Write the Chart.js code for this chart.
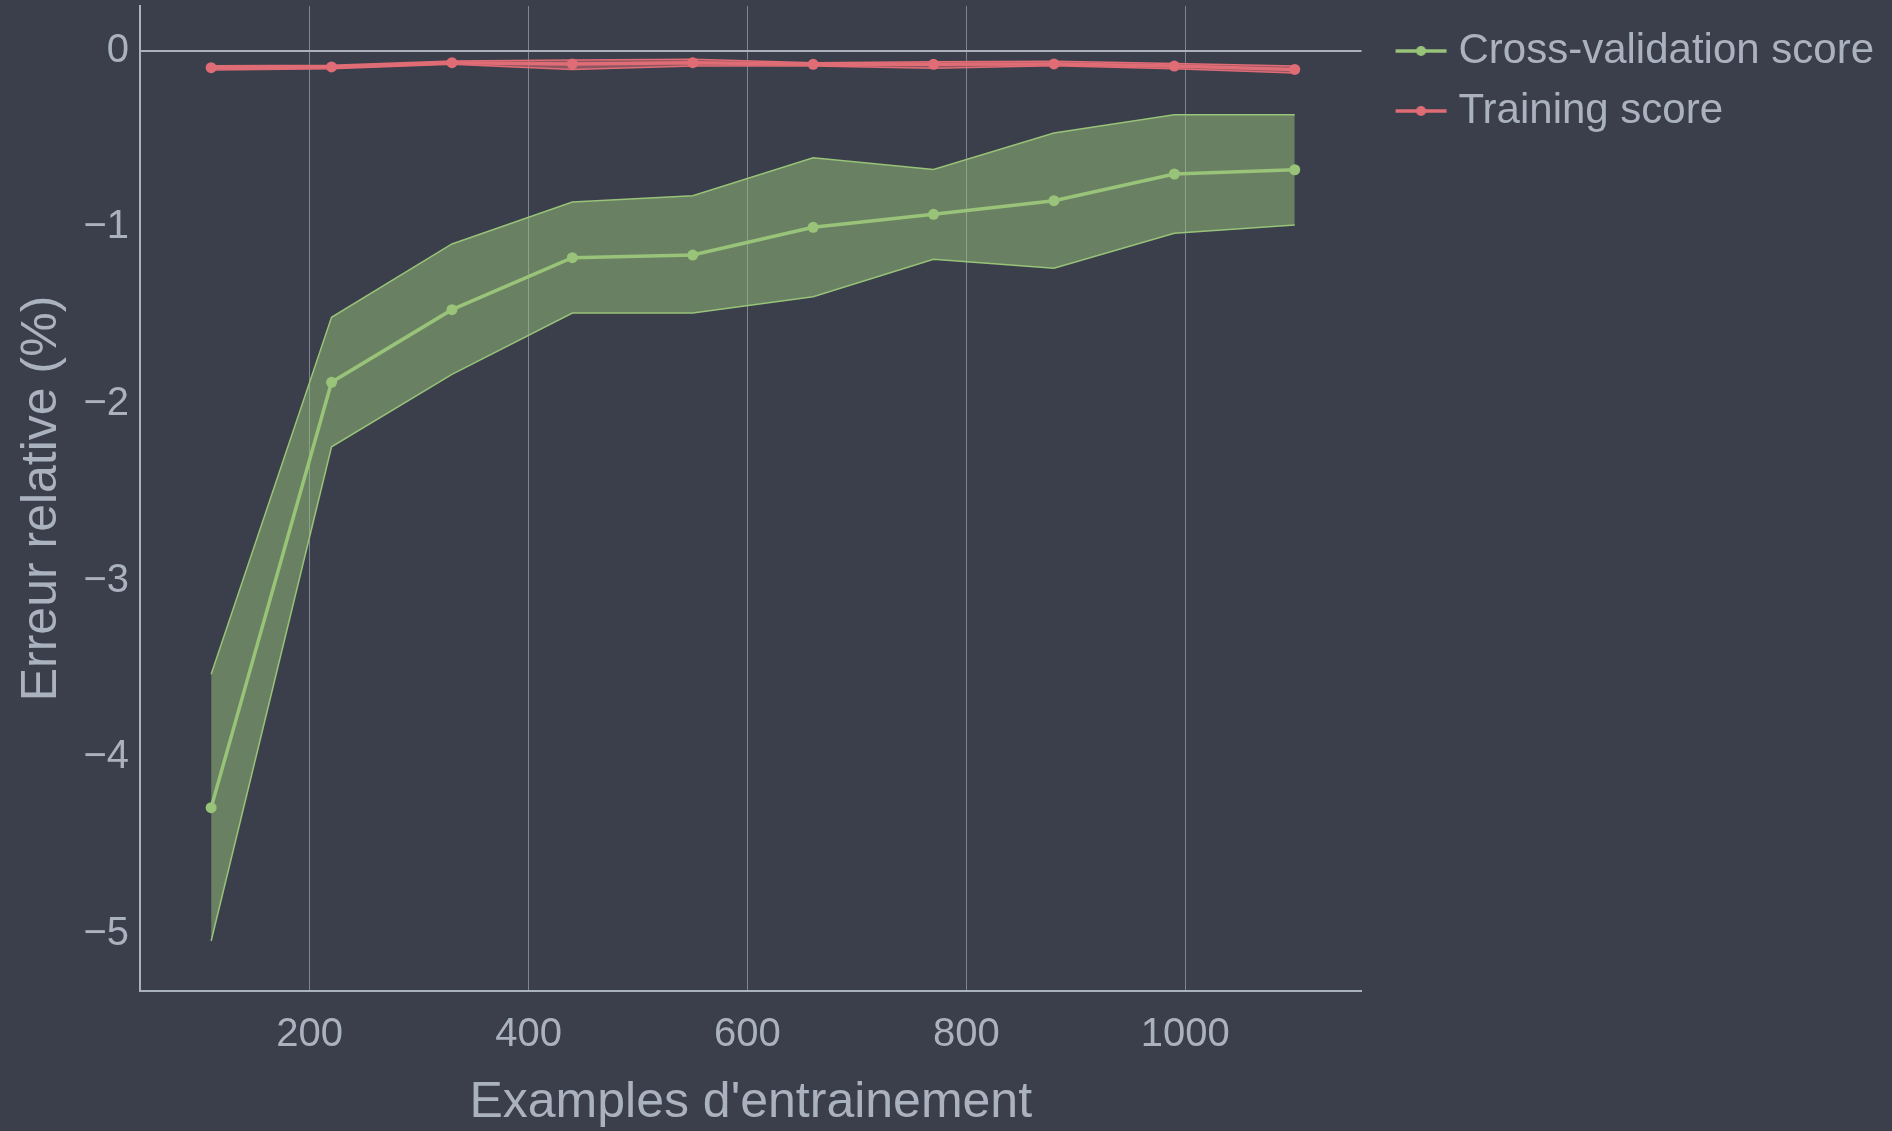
<!DOCTYPE html>
<html>
<head>
<meta charset="utf-8">
<script src="https://cdn.jsdelivr.net/npm/chart.js@4.4.1/dist/chart.umd.min.js"></script>
<style>
    html, body { margin: 0; padding: 0; background: #3b3f4b; }
    #wrap { width: 1892px; height: 1131px; }
</style>
</head>
<body>
<div id="wrap"><canvas id="learningChart" width="1892" height="1131"></canvas></div>
<script>
// training set sizes
const trainSizes = [110, 220, 330, 440, 550, 660, 770, 880, 990, 1100];

// cross-validation score (mean, +/- std)
const cvMean  = [-4.285, -1.877, -1.466, -1.172, -1.157, -1.000, -0.926, -0.849, -0.698, -0.674];
const cvUpper = [-3.530, -1.509, -1.094, -0.857, -0.821, -0.606, -0.672, -0.466, -0.362, -0.362];
const cvLower = [-5.040, -2.242, -1.832, -1.485, -1.485, -1.393, -1.181, -1.232, -1.034, -0.987];

// training score (mean, +/- std)
const trainMean  = [-0.096, -0.092, -0.068, -0.075, -0.068, -0.077, -0.077, -0.075, -0.087, -0.106];
const trainUpper = [-0.085, -0.083, -0.058, -0.053, -0.049, -0.068, -0.062, -0.060, -0.072, -0.087];
const trainLower = [-0.109, -0.102, -0.077, -0.106, -0.087, -0.087, -0.100, -0.085, -0.102, -0.126];

const xTicks = [200, 400, 600, 800, 1000];
const yTicks = [-5, -4, -3, -2, -1, 0];

const GREEN = '#98c379';
const RED = '#e06c75';
const TEXT = '#abb2bf';
const FONT = "'Liberation Sans', Arial, sans-serif";

function pts(ys) {
    return trainSizes.map((x, i) => ({ x: x, y: ys[i] }));
}

// legend icon: a short line with a dot in the middle (left part left blank on purpose)
function legendIcon(color) {
    const c = document.createElement('canvas');
    c.width = 78;
    c.height = 14;
    const g = c.getContext('2d');
    g.strokeStyle = color;
    g.lineWidth = 3.5;
    g.beginPath();
    g.moveTo(26, 7);
    g.lineTo(77, 7);
    g.stroke();
    g.fillStyle = color;
    g.beginPath();
    g.arc(51.5, 7, 5, 0, Math.PI * 2);
    g.fill();
    return c;
}
const icons = { 'Cross-validation score': legendIcon(GREEN), 'Training score': legendIcon(RED) };

function band(ys, color, fillTarget) {
    return {
        label: '',
        data: pts(ys),
        borderColor: color,
        borderWidth: 1.5,
        pointRadius: 0,
        backgroundColor: color + '80',
        fill: fillTarget === undefined ? false : fillTarget,
        tension: 0
    };
}

const ctx = document.getElementById('learningChart').getContext('2d');
const learningChart = new Chart(ctx, {
    type: 'line',
    data: {
        datasets: [
            {
                label: 'Cross-validation score',
                data: pts(cvMean),
                borderColor: GREEN,
                backgroundColor: GREEN,
                borderWidth: 3.5,
                pointRadius: 5.5,
                pointBorderWidth: 0,
                fill: false
            },
            {
                label: 'Training score',
                data: pts(trainMean),
                borderColor: RED,
                backgroundColor: RED,
                borderWidth: 3.5,
                pointRadius: 5.5,
                pointBorderWidth: 0,
                fill: false
            },
            band(cvUpper, GREEN, 3),    // 2: fills down to 3
            band(cvLower, GREEN),       // 3
            band(trainUpper, RED, 5),   // 4: fills down to 5
            band(trainLower, RED)       // 5
        ]
    },
    options: {
        responsive: false,
        animation: false,
        layout: { padding: { top: 6, right: 8, bottom: 0, left: 0 } },
        plugins: {
            tooltip: { enabled: false },
            legend: {
                display: true,
                position: 'right',
                align: 'start',
                maxWidth: 600,
                title: { display: true, text: ' ', font: { size: 5 }, padding: 0 },
                labels: {
                    filter: item => item.text !== '',
                    usePointStyle: true,
                    pointStyleWidth: 58,
                    boxWidth: 58,
                    padding: 18,
                    color: TEXT,
                    font: { family: FONT, size: 42 },
                    generateLabels: function (chart) {
                        const items = Chart.defaults.plugins.legend.labels.generateLabels(chart);
                        items.forEach(it => { it.pointStyle = icons[it.text]; });
                        return items;
                    }
                }
            }
        },
        scales: {
            x: {
                type: 'linear',
                min: 45,
                max: 1161,
                afterBuildTicks: axis => { axis.ticks = xTicks.map(v => ({ value: v })); },
                afterFit: axis => {
                    axis.height = 140;
                    axis.paddingLeft = 0;
                    axis.paddingRight = 0;
                },
                grid: { color: '#7f8491', lineWidth: 1, drawTicks: false },
                border: { display: true, color: TEXT, width: 2 },
                ticks: {
                    color: TEXT,
                    padding: 20,
                    maxRotation: 0,
                    font: { family: FONT, size: 40 },
                    callback: v => String(v)
                },
                title: {
                    display: true,
                    text: "Examples d'entrainement",
                    color: TEXT,
                    font: { family: FONT, size: 50, lineHeight: 1.1 },
                    padding: { top: 0, bottom: 0 }
                }
            },
            y: {
                type: 'linear',
                min: -5.323,
                max: 0.253,
                afterBuildTicks: axis => { axis.ticks = yTicks.map(v => ({ value: v })); },
                afterFit: axis => {
                    axis.width = 140;
                    axis.paddingTop = 0;
                    axis.paddingBottom = 0;
                },
                grid: {
                    drawTicks: false,
                    color: c => (c.tick && c.tick.value === 0) ? TEXT : 'rgba(0,0,0,0)',
                    lineWidth: c => (c.tick && c.tick.value === 0) ? 2 : 0
                },
                border: { display: true, color: TEXT, width: 2 },
                ticks: {
                    color: TEXT,
                    padding: 11,
                    font: { family: FONT, size: 40 },
                    callback: v => v < 0 ? '\u2212' + Math.abs(v) : String(v)
                },
                title: {
                    display: true,
                    text: 'Erreur relative (%)',
                    color: TEXT,
                    font: { family: FONT, size: 50 },
                    padding: { top: 12, bottom: 0 }
                }
            }
        }
    }
});
</script>
</body>
</html>
